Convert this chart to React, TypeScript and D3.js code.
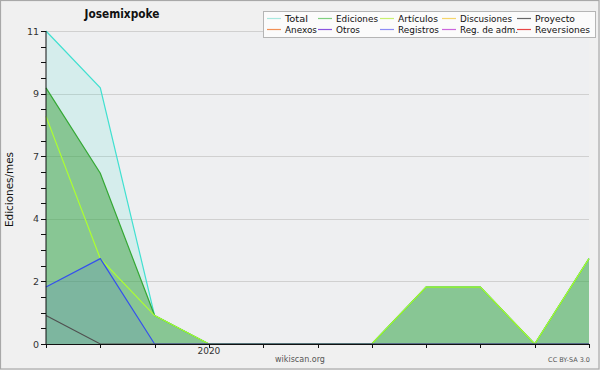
import React from "react";
import * as d3 from "d3";

const months = ["2019-10","2019-11","2019-12","2020-01","2020-02","2020-03","2020-04","2020-05","2020-06","2020-07","2020-08"];
const xTickLabels = ["","","","2020","","","","","","",""];

const totalValues = [11, 9, 1, 0, 0, 0, 0, 2, 2, 0, 3];
const editsValues = [9, 6, 1, 0, 0, 0, 0, 2, 2, 0, 3];
const articlesValues = [8, 3, 1, 0, 0, 0, 0, 2, 2, 0, 3];
const registrosValues = [2, 3, 0, 0, 0, 0, 0, 0, 0, 0, 0];
const proyectoValues = [1, 0, 0, 0, 0, 0, 0, 0, 0, 0, 0];

const yMax = 11;

const legendNames = ["Total","Ediciones","Artículos","Discusiones","Proyecto","Anexos","Otros","Registros","Reg. de adm.","Reversiones"];
const legendColors = ["#a8e8df","#7fcf7f","#c8f070","#f5d56a","#666666","#f29055","#8a55e0","#8c8cf5","#cc66dd","#e84545"];
const legendWidths = [23, 42, 40, 52, 40, 32, 24, 41, 58, 55];

const seriesList = [
  { name: "Total", values: totalValues, stroke: "#40e0d0", fill: "#40e0d0", fillOpacity: 0.14 },
  { name: "Ediciones", values: editsValues, stroke: "#34a834", fill: "#3c9f3c", fillOpacity: 0.5 },
  { name: "Artículos", values: articlesValues, stroke: "#adff2f", fill: "none", fillOpacity: 0 },
  { name: "Registros", values: registrosValues, stroke: "#3550ee", fill: "#3550ee", fillOpacity: 0.13 },
  { name: "Proyecto", values: proyectoValues, stroke: "#505050", fill: "none", fillOpacity: 0 },
];

const W = 600, H = 370;
const X0 = 46, X1 = 589, YT = 31, YB = 344;

export default function App() {
  const x = d3.scaleLinear().domain([0, months.length - 1]).range([X0, X1]);
  const y = d3.scaleLinear().domain([0, yMax]).range([YB, YT]);
  const area = d3.area<number>().x((_, i) => x(i)).y0(YB).y1((d) => y(d));
  const line = d3.line<number>().x((_, i) => x(i)).y((d) => y(d));

  const majors = d3.range(0, 6).map((k) => (yMax * k) / 5);
  const minors = d3.range(0, 21).map((k) => (yMax * k) / 20);

  const legendCols = [267, 318, 380, 442, 517];
  const legendRows = [18.5, 29.5];

  return (
    <svg width={W} height={H} style={{ position: "fixed", left: 0, top: 0 }} fontFamily="DejaVu Sans, sans-serif">
      <rect x={0} y={0} width={W} height={H} fill="#f0f0f0" />
      <rect x={0.5} y={0.5} width={W - 1.5} height={H - 1.5} fill="none" stroke="#a8a8a8" strokeWidth={1.2} />
      <rect x={X0} y={YT} width={X1 - X0} height={YB - YT} fill="#eeeff1" />
      {majors.slice(1).map((v, i) => (
        <line key={"g" + i} x1={X0} x2={X1} y1={Math.round(y(v)) + 0.5} y2={Math.round(y(v)) + 0.5} stroke="#d0d0d0" strokeWidth={1} />
      ))}
      {seriesList.map((s) =>
        s.fill !== "none" ? (
          <path key={"a" + s.name} d={area(s.values) || ""} fill={s.fill} fillOpacity={s.fillOpacity} stroke="none" />
        ) : null
      )}
      {seriesList.map((s) => (
        <path key={"l" + s.name} d={line(s.values) || ""} fill="none" stroke={s.stroke} strokeWidth={1.2} />
      ))}
      <line x1={X0} x2={X0} y1={YT} y2={YB} stroke="#111" strokeWidth={1} />
      <line x1={X0} x2={X1} y1={YB + 0.5} y2={YB + 0.5} stroke="#111" strokeWidth={1} />
      {minors.map((v, i) => (
        <line key={"mt" + i} x1={X0 - 5} x2={X0} y1={Math.round(y(v)) + 0.5} y2={Math.round(y(v)) + 0.5} stroke="#111" strokeWidth={1} />
      ))}
      {majors.map((v, i) => (
        <text key={"yl" + i} x={39} y={y(v) + 3.5} fontSize={9.5} textAnchor="end" fill="#333">
          {Math.round(v)}
        </text>
      ))}
      {months.map((m, i) => (
        <line key={"xt" + m} x1={Math.round(x(i)) + 0.5} x2={Math.round(x(i)) + 0.5} y1={YB} y2={YB + 4} stroke="#111" strokeWidth={1} />
      ))}
      {months.map((m, i) =>
        xTickLabels[i] ? (
          <text key={"xl" + m} x={x(i)} y={354} fontSize={9} textAnchor="middle" fill="#333">
            {xTickLabels[i]}
          </text>
        ) : null
      )}
      <text x={122} y={18} fontSize={13} fontWeight="bold" textAnchor="middle" fill="#111" textLength={75} lengthAdjust="spacingAndGlyphs">
        Josemixpoke
      </text>
      <text transform="translate(13,189.5) rotate(-90)" fontSize={11} textAnchor="middle" fill="#111" textLength={75} lengthAdjust="spacingAndGlyphs">
        Ediciones/mes
      </text>
      <text x={300} y={362} fontSize={8} textAnchor="middle" fill="#555">wikiscan.org</text>
      <text x={590} y={362} fontSize={6.5} textAnchor="end" fill="#555">CC BY-SA 3.0</text>
      <rect x={263.5} y={11.5} width={332} height={26} fill="#fbfbfb" stroke="#b5b5b5" strokeWidth={1} />
      {legendNames.map((n, i) => {
        const col = i % 5;
        const row = Math.floor(i / 5);
        const lx = legendCols[col];
        const ly = legendRows[row];
        return (
          <g key={"lg" + n}>
            <line x1={lx} x2={lx + 14} y1={ly} y2={ly} stroke={legendColors[i]} strokeWidth={1.2} />
            <text x={lx + 18} y={ly + 3.5} fontSize={9.5} fill="#111" textLength={legendWidths[i]} lengthAdjust="spacingAndGlyphs">
              {n}
            </text>
          </g>
        );
      })}
    </svg>
  );
}
